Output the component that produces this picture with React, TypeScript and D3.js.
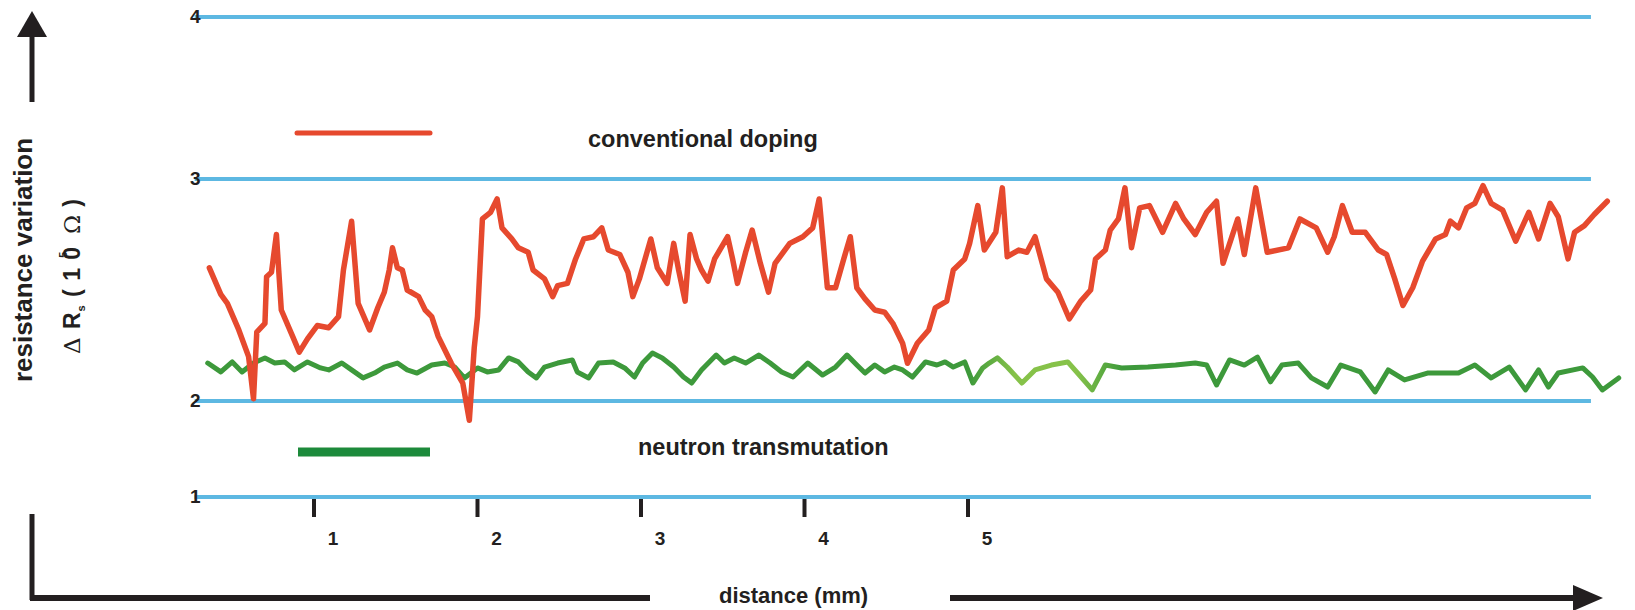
import React, { useEffect, useRef } from 'react';
import * as d3 from 'd3';

// resistance levels drawn as the blue reference lines
const yTicks = [1, 2, 3, 4];
// distance ticks along the bottom (mm)
const xTicks = [1, 2, 3, 4, 5];
// horizontal span of the reference lines, in mm
const gridExtent = [0.27, 8.81];

// [distance (mm), delta Rs]
const conventionalDoping: [number, number][] = [
  [0.36, 2.60], [0.43, 2.48], [0.47, 2.44], [0.54, 2.32], [0.60, 2.20], [0.63, 2.01],
  [0.65, 2.31], [0.70, 2.35], [0.71, 2.56], [0.74, 2.58], [0.77, 2.75], [0.80, 2.41],
  [0.87, 2.29], [0.91, 2.22], [0.96, 2.28], [1.02, 2.34], [1.09, 2.33], [1.15, 2.38],
  [1.18, 2.59], [1.23, 2.81], [1.27, 2.44], [1.34, 2.32], [1.39, 2.42], [1.43, 2.49],
  [1.46, 2.59], [1.48, 2.69], [1.51, 2.60], [1.54, 2.59], [1.57, 2.50], [1.64, 2.47],
  [1.68, 2.41], [1.72, 2.38], [1.76, 2.29], [1.84, 2.17], [1.91, 2.08], [1.95, 1.80],
  [1.98, 2.24], [2.00, 2.38], [2.03, 2.82], [2.08, 2.85], [2.12, 2.91], [2.15, 2.78],
  [2.21, 2.73], [2.25, 2.69], [2.31, 2.67], [2.34, 2.59], [2.41, 2.55], [2.46, 2.47],
  [2.49, 2.52], [2.55, 2.53], [2.60, 2.64], [2.65, 2.73], [2.71, 2.74], [2.76, 2.78],
  [2.80, 2.68], [2.87, 2.66], [2.92, 2.58], [2.95, 2.47], [2.99, 2.55], [3.06, 2.73],
  [3.10, 2.60], [3.16, 2.53], [3.20, 2.71], [3.23, 2.59], [3.27, 2.45], [3.30, 2.75],
  [3.34, 2.64], [3.37, 2.59], [3.41, 2.54], [3.45, 2.64], [3.53, 2.74], [3.56, 2.64],
  [3.59, 2.53], [3.64, 2.67], [3.68, 2.77], [3.73, 2.62], [3.78, 2.49], [3.82, 2.62],
  [3.91, 2.71], [3.99, 2.74], [4.05, 2.78], [4.09, 2.91], [4.14, 2.51], [4.19, 2.51],
  [4.24, 2.64], [4.28, 2.74], [4.32, 2.51], [4.37, 2.46], [4.43, 2.41], [4.49, 2.40],
  [4.54, 2.35], [4.60, 2.26], [4.63, 2.17], [4.69, 2.26], [4.76, 2.32], [4.80, 2.42],
  [4.87, 2.45], [4.91, 2.59], [4.98, 2.64], [5.01, 2.71], [5.06, 2.88], [5.10, 2.68],
  [5.17, 2.76], [5.21, 2.96], [5.24, 2.65], [5.31, 2.68], [5.36, 2.67], [5.41, 2.74],
  [5.48, 2.55], [5.55, 2.49], [5.62, 2.37], [5.69, 2.45], [5.75, 2.50], [5.78, 2.64],
  [5.84, 2.68], [5.87, 2.77], [5.92, 2.82], [5.96, 2.96], [6.00, 2.69], [6.05, 2.87],
  [6.11, 2.88], [6.19, 2.76], [6.27, 2.89], [6.32, 2.82], [6.39, 2.75], [6.46, 2.85],
  [6.52, 2.90], [6.56, 2.62], [6.65, 2.82], [6.69, 2.66], [6.76, 2.96], [6.83, 2.67],
  [6.96, 2.69], [7.03, 2.82], [7.13, 2.78], [7.20, 2.67], [7.24, 2.74], [7.29, 2.88],
  [7.35, 2.76], [7.43, 2.76], [7.51, 2.68], [7.56, 2.66], [7.61, 2.55], [7.66, 2.43],
  [7.72, 2.51], [7.78, 2.63], [7.86, 2.73], [7.92, 2.75], [7.95, 2.81], [8.00, 2.78],
  [8.05, 2.87], [8.10, 2.89], [8.15, 2.97], [8.20, 2.89], [8.27, 2.86], [8.35, 2.72],
  [8.43, 2.85], [8.49, 2.73], [8.56, 2.89], [8.61, 2.83], [8.67, 2.64], [8.71, 2.76],
  [8.77, 2.79], [8.83, 2.84], [8.91, 2.90],
];

const neutronTransmutation: [number, number][] = [
  [0.35, 2.171], [0.43, 2.131], [0.50, 2.176], [0.56, 2.131], [0.63, 2.171], [0.70, 2.194],
  [0.76, 2.171], [0.82, 2.176], [0.88, 2.140], [0.96, 2.176], [1.04, 2.149], [1.09, 2.140],
  [1.17, 2.171], [1.23, 2.140], [1.30, 2.104], [1.37, 2.126], [1.43, 2.153], [1.51, 2.171],
  [1.57, 2.140], [1.63, 2.126], [1.72, 2.162], [1.80, 2.171], [1.86, 2.153], [1.92, 2.104],
  [2.00, 2.149], [2.06, 2.131], [2.13, 2.140], [2.19, 2.194], [2.25, 2.176], [2.31, 2.131],
  [2.36, 2.104], [2.41, 2.153], [2.49, 2.171], [2.58, 2.185], [2.61, 2.131], [2.68, 2.104],
  [2.74, 2.171], [2.83, 2.176], [2.90, 2.149], [2.96, 2.108], [3.01, 2.171], [3.07, 2.216],
  [3.13, 2.194], [3.20, 2.153], [3.26, 2.108], [3.31, 2.081], [3.37, 2.140], [3.46, 2.207],
  [3.51, 2.171], [3.57, 2.194], [3.64, 2.171], [3.72, 2.207], [3.79, 2.171], [3.86, 2.131],
  [3.93, 2.108], [4.02, 2.171], [4.11, 2.117], [4.19, 2.153], [4.26, 2.207], [4.32, 2.162],
  [4.37, 2.126], [4.43, 2.162], [4.49, 2.131], [4.55, 2.153], [4.60, 2.140], [4.66, 2.108],
  [4.74, 2.176], [4.81, 2.162], [4.86, 2.176], [4.91, 2.153], [4.98, 2.176], [5.03, 2.081],
  [5.09, 2.149], [5.13, 2.171], [5.18, 2.194], [5.24, 2.153], [5.33, 2.081], [5.41, 2.140],
  [5.51, 2.162], [5.61, 2.176], [5.67, 2.126], [5.76, 2.050], [5.84, 2.162], [5.94, 2.149],
  [6.10, 2.153], [6.27, 2.162], [6.39, 2.171], [6.46, 2.162], [6.52, 2.072], [6.60, 2.185],
  [6.69, 2.162], [6.77, 2.198], [6.85, 2.086], [6.92, 2.162], [7.02, 2.171], [7.10, 2.104],
  [7.20, 2.063], [7.28, 2.162], [7.40, 2.131], [7.49, 2.041], [7.57, 2.140], [7.67, 2.095],
  [7.81, 2.126], [8.00, 2.126], [8.10, 2.162], [8.20, 2.104], [8.31, 2.153], [8.41, 2.050],
  [8.49, 2.140], [8.55, 2.063], [8.61, 2.126], [8.76, 2.149], [8.82, 2.108], [8.88, 2.050],
  [8.98, 2.104],
];

const WIDTH = 1635;
const HEIGHT = 610;
const INK = '#231f20';
const RED = '#e6492d';
const FONT = '"Liberation Sans", Arial, Helvetica, sans-serif';

export default function App() {
  const ref = useRef<SVGSVGElement>(null);

  useEffect(() => {
    const svg = d3.select(ref.current);
    svg.selectAll('*').remove();

    // distance axis and the uneven resistance axis
    const x = d3.scaleLinear().domain([1, 5]).range([314, 968]);
    const y = d3.scaleLinear().domain(yTicks).range([497, 401, 179, 17]);

    const defs = svg.append('defs');
    defs.append('filter').attr('id', 'soft')
      .attr('filterUnits', 'userSpaceOnUse')
      .attr('x', 0).attr('y', 0).attr('width', WIDTH).attr('height', HEIGHT)
      .append('feGaussianBlur').attr('stdDeviation', 0.6);
    const grad = defs.append('linearGradient').attr('id', 'greenFade')
      .attr('gradientUnits', 'userSpaceOnUse')
      .attr('x1', x(5.0)).attr('x2', x(5.95)).attr('y1', 0).attr('y2', 0);
    grad.append('stop').attr('offset', 0).attr('stop-color', '#3c993a');
    grad.append('stop').attr('offset', 0.3).attr('stop-color', '#86c24a');
    grad.append('stop').attr('offset', 0.7).attr('stop-color', '#86c24a');
    grad.append('stop').attr('offset', 1).attr('stop-color', '#3c993a');

    // blue reference lines
    svg.append('g').selectAll('line').data(yTicks).join('line')
      .attr('x1', x(gridExtent[0])).attr('x2', x(gridExtent[1]))
      .attr('y1', d => y(d)).attr('y2', d => y(d))
      .attr('stroke', '#5db8e2').attr('stroke-width', 4);

    const line = d3.line<[number, number]>().x(d => x(d[0])).y(d => y(d[1]));

    svg.append('path').datum(neutronTransmutation)
      .attr('d', line).attr('fill', 'none')
      .attr('stroke', 'url(#greenFade)').attr('stroke-width', 5)
      .attr('stroke-linejoin', 'round').attr('stroke-linecap', 'round')
      .attr('filter', 'url(#soft)');

    svg.append('path').datum(conventionalDoping)
      .attr('d', line).attr('fill', 'none')
      .attr('stroke', RED).attr('stroke-width', 5.5)
      .attr('stroke-linejoin', 'round').attr('stroke-linecap', 'round')
      .attr('filter', 'url(#soft)');

    // level labels on the left end of the blue lines
    svg.append('g').selectAll('text').data(yTicks).join('text')
      .attr('x', x(gridExtent[0]) + 6).attr('y', d => y(d) + 6)
      .attr('text-anchor', 'end')
      .style('font', `bold 19px ${FONT}`).attr('fill', INK)
      .text(d => d);

    // distance ticks
    const base = y(yTicks[0]);
    svg.append('g').selectAll('line').data(xTicks).join('line')
      .attr('x1', d => x(d)).attr('x2', d => x(d))
      .attr('y1', base + 2).attr('y2', base + 20)
      .attr('stroke', INK).attr('stroke-width', 4);
    svg.append('g').selectAll('text').data(xTicks).join('text')
      .attr('x', d => x(d) + 19).attr('y', base + 48)
      .attr('text-anchor', 'middle')
      .style('font', `bold 19px ${FONT}`).attr('fill', INK)
      .text(d => d);

    // legend
    svg.append('line').attr('x1', 297).attr('x2', 430).attr('y1', 133).attr('y2', 133)
      .attr('stroke', RED).attr('stroke-width', 5).attr('stroke-linecap', 'round')
      .attr('filter', 'url(#soft)');
    svg.append('text').attr('x', 588).attr('y', 147)
      .style('font', `bold 23.5px ${FONT}`).attr('fill', INK)
      .text('conventional doping');
    svg.append('line').attr('x1', 298).attr('x2', 430).attr('y1', 452).attr('y2', 452)
      .attr('stroke', '#1f8a3a').attr('stroke-width', 9)
      .attr('filter', 'url(#soft)');
    svg.append('text').attr('x', 638).attr('y', 455)
      .style('font', `bold 23.5px ${FONT}`).attr('fill', INK)
      .text('neutron transmutation');

    // vertical arrow and y titles
    svg.append('line').attr('x1', 32).attr('x2', 32).attr('y1', 102).attr('y2', 34)
      .attr('stroke', INK).attr('stroke-width', 5);
    svg.append('path').attr('d', 'M17,37 L47,37 L32,11 Z').attr('fill', INK);

    svg.append('text')
      .attr('transform', 'translate(32,260) rotate(-90)')
      .attr('text-anchor', 'middle')
      .style('font', `bold 26px ${FONT}`).attr('fill', INK)
      .text('resistance variation');

    const unit = svg.append('text')
      .attr('transform', 'translate(80,276) rotate(-90)')
      .attr('text-anchor', 'middle')
      .style('font', `bold 23px ${FONT}`).style('letter-spacing', '1px')
      .style('white-space', 'pre')
      .attr('fill', INK);
    unit.append('tspan').style('font', `normal 23px "DejaVu Serif", serif`).text('Δ');
    unit.append('tspan').text(' R');
    unit.append('tspan').attr('dy', 5).style('font-size', '11px').text('s');
    unit.append('tspan').attr('dy', -5).text(' ( 1 0');
    unit.append('tspan').attr('dx', -12).attr('dy', -13).style('font-size', '11px').text('5');
    unit.append('tspan').attr('dy', 13).style('font', `normal 23px "DejaVu Serif", serif`).text('  Ω');
    unit.append('tspan').text(' )');

    // L-shaped distance axis with arrow
    svg.append('line').attr('x1', 32).attr('x2', 32).attr('y1', 514).attr('y2', 600)
      .attr('stroke', INK).attr('stroke-width', 5);
    svg.append('line').attr('x1', 30).attr('x2', 650).attr('y1', 598).attr('y2', 598)
      .attr('stroke', INK).attr('stroke-width', 6);
    svg.append('text').attr('x', 719).attr('y', 603)
      .style('font', `bold 22px ${FONT}`).attr('fill', INK)
      .text('distance (mm)');
    svg.append('line').attr('x1', 950).attr('x2', 1576).attr('y1', 598).attr('y2', 598)
      .attr('stroke', INK).attr('stroke-width', 6);
    svg.append('path').attr('d', 'M1573,585 L1573,611 L1603,598 Z').attr('fill', INK);
  }, []);

  return (
    <svg
      ref={ref}
      width={WIDTH}
      height={HEIGHT}
      style={{ position: 'absolute', left: 0, top: 0, background: '#fff' }}
    />
  );
}
